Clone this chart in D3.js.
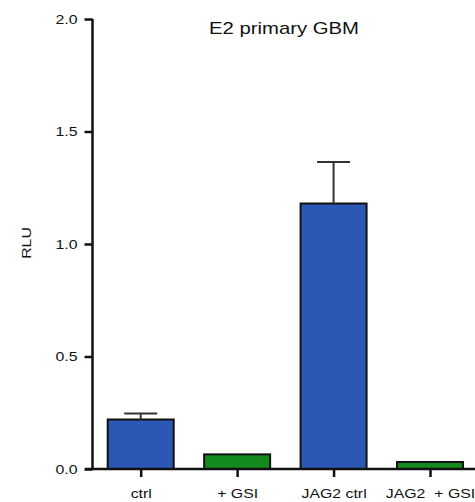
<!DOCTYPE html>
<html>
<head>
  <script src="https://d3js.org/d3.v7.min.js"></script>
  <style>
    body { margin: 0; background: #fff; }
    text { font-family: "Liberation Sans", Arial, sans-serif; fill: #111; }
  </style>
</head>
<body>
<script>
  // values
  var categories = ["ctrl", "+ GSI", "JAG2 ctrl", "JAG2  + GSI"];
  var rlu = [0.22, 0.065, 1.18, 0.031];
  var sem = [0.027, 0, 0.185, 0];
  var barColors = ["#2b58b5", "#138a1d", "#2b58b5", "#138a1d"];
  var yTicks = [0, 0.5, 1.0, 1.5, 2.0];

  var W = 475, H = 502;
  var stretch = 1.27; // glyphs in the reference are wide

  var svg = d3.select("body").append("svg")
    .attr("width", W).attr("height", H);

  var y = d3.scaleLinear().domain([0, 2]).range([469, 19]);
  var x = d3.scalePoint().domain(categories).range([140.7, 430]);
  var barW = 66;

  // bars
  svg.selectAll("rect.bar")
    .data(categories)
    .enter().append("rect")
      .attr("class", "bar")
      .attr("x", function(d) { return x(d) - barW / 2; })
      .attr("y", function(d, i) { return y(rlu[i]); })
      .attr("width", barW)
      .attr("height", function(d, i) { return y(0) - y(rlu[i]); })
      .attr("fill", function(d, i) { return barColors[i]; })
      .attr("stroke", "#111")
      .attr("stroke-width", 2);

  // error bars (upper only)
  categories.forEach(function(d, i) {
    if (!sem[i]) return;
    var cx = x(d);
    svg.append("line")
      .attr("x1", cx).attr("x2", cx)
      .attr("y1", y(rlu[i])).attr("y2", y(rlu[i] + sem[i]))
      .attr("stroke", "#333").attr("stroke-width", 2);
    svg.append("line")
      .attr("x1", cx - 16.5).attr("x2", cx + 16.5)
      .attr("y1", y(rlu[i] + sem[i])).attr("y2", y(rlu[i] + sem[i]))
      .attr("stroke", "#333").attr("stroke-width", 2);
  });

  // y axis
  var yAxis = svg.append("g")
    .attr("transform", "translate(92.5,0)")
    .call(d3.axisLeft(y).tickValues(yTicks).tickFormat(d3.format(".1f"))
      .tickSize(8).tickPadding(7));
  yAxis.select(".domain").attr("d", "M0," + y(2) + "V" + y(0))
    .attr("stroke", "#111").attr("stroke-width", 2.5);
  yAxis.selectAll(".tick line").attr("stroke", "#111").attr("stroke-width", 2.5);
  yAxis.selectAll(".tick text")
    .style("font-size", "12.5px")
    .attr("transform", function() {
      var tx = +d3.select(this).attr("x");
      return "translate(" + tx + ",0) scale(" + stretch + ",1) translate(" + (-tx) + ",0)";
    });

  // x axis
  var xAxis = svg.append("g")
    .attr("transform", "translate(0," + y(0) + ")")
    .call(d3.axisBottom(x).tickSize(8).tickPadding(12));
  xAxis.select(".domain").attr("d", "M85,0H" + W)
    .attr("stroke", "#111").attr("stroke-width", 2.5);
  xAxis.selectAll(".tick line").attr("stroke", "#111").attr("stroke-width", 2.5);
  xAxis.selectAll(".tick text")
    .style("font-size", "12.5px")
    .style("white-space", "pre")
    .attr("transform", "scale(" + stretch + ",1)");

  // y label
  svg.append("text")
    .attr("transform", "translate(31,243) rotate(-90) scale(" + stretch + ",1)")
    .attr("text-anchor", "middle")
    .style("font-size", "12.5px")
    .text("RLU");

  // title
  svg.append("text")
    .attr("transform", "translate(284,34) scale(" + stretch + ",1)")
    .attr("text-anchor", "middle")
    .style("font-size", "16px")
    .text("E2 primary GBM");
</script>
</body>
</html>
